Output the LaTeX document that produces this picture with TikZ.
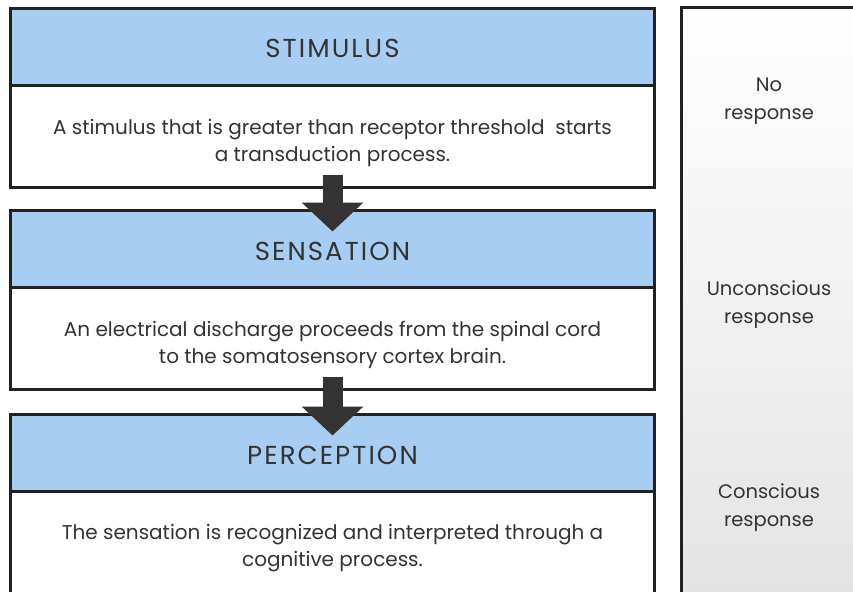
\documentclass[tikz,border=0pt]{standalone}
\usepackage{fontspec}
\setmainfont{Poppins}
\usetikzlibrary{positioning}
\usetikzlibrary{calc}
\usetikzlibrary{arrows.meta}

\definecolor{headblue}{HTML}{A7CDF2}
\definecolor{edgegray}{HTML}{222222}
\definecolor{inkgray}{HTML}{333333}

\tikzset{
  headbox/.style={draw=edgegray, line width=3pt, fill=headblue, minimum width=644pt, minimum height=77pt,
    inner sep=0pt, outer sep=0pt, text=inkgray, text height=22pt, text depth=0pt,
    font=\fontsize{26}{30}\selectfont\addfontfeature{LetterSpace=8}},
  bodybox/.style={draw=edgegray, line width=3pt, fill=white, minimum width=644pt, minimum height=102pt,
    inner sep=0pt, outer sep=0pt},
  bodytext/.style={align=center, text=inkgray, inner sep=0pt, font=\fontsize{20}{27}\selectfont},
  flowarrow/.style={draw=inkgray, line width=20pt, -{Triangle[width=60pt,length=29pt]}},
  sidetext/.style={align=center, text=inkgray, font=\fontsize{19.5}{28}\selectfont}
}

\begin{document}
\begin{tikzpicture}[x=1pt,y=-1pt]

\useasboundingbox (0,0) rectangle (853,591);
\clip (0,0) rectangle (853,591);

% Draw the response panel
\shade[top color=white, middle color=white, bottom color=black!11] (681.5,7.5) rectangle (880,620);
\draw[edgegray, line width=3pt] (880,7.5) -- (681.5,7.5) -- (681.5,620);

% Draw the three stages
\node[headbox, anchor=north west] (stimhead) at (10.5,8.5) {STIMULUS};
\node[bodybox, below=0pt of stimhead] (stimbody) {};

\node[headbox, below=23pt of stimbody] (senshead) {SENSATION};
\node[bodybox, below=0pt of senshead] (sensbody) {};

\node[headbox, below=25pt of sensbody] (perchead) {PERCEPTION};
\node[bodybox, below=0pt of perchead] (percbody) {};

% Texts of the stages
\node[bodytext] (stimtext) at ([yshift=-6pt]stimbody.center) {A stimulus that is greater than receptor threshold~ starts\\a transduction process.};
\node[bodytext] (senstext) at ([yshift=-6pt]sensbody.center) {An electrical discharge proceeds from the spinal cord\\to the somatosensory cortex brain.};
\node[bodytext] (perctext) at ([yshift=-6pt]percbody.center) {The sensation is recognized and interpreted through a\\cognitive process.};

% Arrows between stages
\draw[flowarrow] ($(stimbody.south)+(0,13pt)$) -- ($(senshead.north)+(0,-21pt)$);
\draw[flowarrow] ($(sensbody.south)+(0,13pt)$) -- ($(perchead.north)+(0,-21pt)$);

% Responses
\node[sidetext] (noresp) at (769,101) {No\\response};
\node[sidetext] (unresp) at (769,305) {Unconscious\\response};
\node[sidetext] (conresp) at (769,508) {Conscious\\response};

\end{tikzpicture}
\end{document}
